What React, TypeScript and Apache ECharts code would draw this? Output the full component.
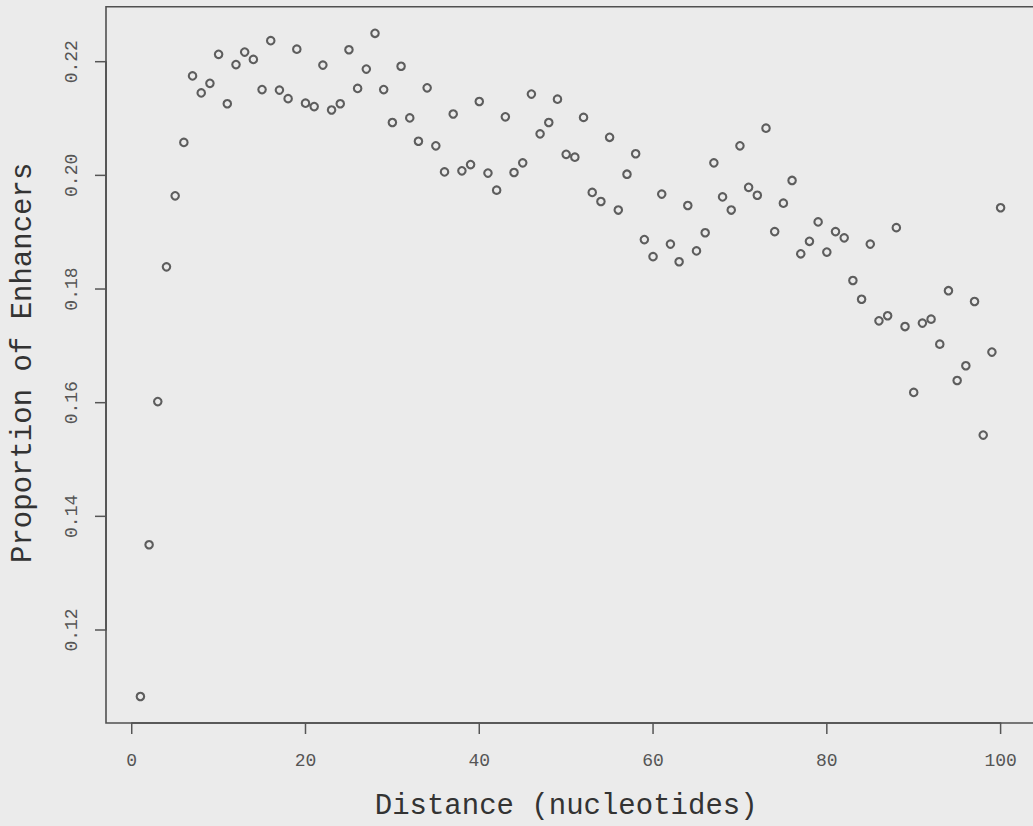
import React, { useEffect, useRef } from "react";
import * as echarts from "echarts";

// Distance (nucleotides) 1..100
const distances: number[] = Array.from({ length: 100 }, (_, i) => i + 1);

// Proportion of enhancers
const proportions: number[] = [
  0.1083, 0.1350, 0.1602, 0.1839, 0.1964, 0.2058, 0.2175, 0.2145, 0.2162, 0.2213,
  0.2126, 0.2195, 0.2217, 0.2204, 0.2151, 0.2237, 0.2150, 0.2135, 0.2222, 0.2127,
  0.2121, 0.2194, 0.2115, 0.2126, 0.2221, 0.2153, 0.2187, 0.2250, 0.2151, 0.2093,
  0.2192, 0.2101, 0.2060, 0.2154, 0.2052, 0.2006, 0.2108, 0.2008, 0.2019, 0.2130,
  0.2004, 0.1974, 0.2103, 0.2005, 0.2022, 0.2143, 0.2073, 0.2093, 0.2134, 0.2037,
  0.2032, 0.2102, 0.1970, 0.1954, 0.2067, 0.1939, 0.2002, 0.2038, 0.1887, 0.1857,
  0.1967, 0.1879, 0.1848, 0.1947, 0.1867, 0.1899, 0.2022, 0.1962, 0.1939, 0.2052,
  0.1979, 0.1965, 0.2083, 0.1901, 0.1951, 0.1991, 0.1862, 0.1884, 0.1918, 0.1865,
  0.1901, 0.1890, 0.1815, 0.1782, 0.1879, 0.1744, 0.1753, 0.1908, 0.1734, 0.1618,
  0.1740, 0.1747, 0.1703, 0.1797, 0.1639, 0.1665, 0.1778, 0.1543, 0.1689, 0.1943,
];

// Tick ranges (first tick, last tick, step) and tick values
const xTickRange: number[] = [0, 100, 20];
const yTickRange: number[] = [0.12, 0.22, 0.02];
const xTickValues: number[] = [0, 20, 40, 60, 80, 100];
const yTickValues: number[] = [0.12, 0.14, 0.16, 0.18, 0.2, 0.22];

const MONO = "'Courier New', Courier, 'Nimbus Mono PS', FreeMono, 'Liberation Mono', monospace";
const INK = "#505050";

export default function App() {
  const ref = useRef<HTMLDivElement>(null);

  useEffect(() => {
    if (!ref.current) return;
    const chart = echarts.init(ref.current, undefined, { renderer: "svg" });
    const points = distances.map((d, i) => [d, proportions[i]]);

    // plot box (R style, 4% padding around the data)
    const boxLeft = 106;
    const boxTop = 6.75;
    const boxWidth = 929;
    const boxHeight = 716.25;
    const boxBottom = boxTop + boxHeight;
    // inner grid spans the tick ranges
    const gridLeft = 131.72;
    const gridTop = 61.7;
    const gridWidth = 868.88;
    const gridHeight = 568.3;
    const tickLen = 11;

    chart.setOption({
      animation: false,
      backgroundColor: "#ebebeb",
      grid: {
        left: gridLeft,
        top: gridTop,
        width: gridWidth,
        height: gridHeight,
        show: false,
      },
      graphic: [
        {
          type: "rect",
          silent: true,
          shape: { x: boxLeft, y: boxTop, width: boxWidth, height: boxHeight },
          style: { fill: "none", stroke: INK, lineWidth: 1.6 },
        },
      ],
      xAxis: {
        type: "value",
        min: xTickRange[0],
        max: xTickRange[1],
        interval: xTickRange[2],
        offset: boxBottom - (gridTop + gridHeight),
        name: "Distance (nucleotides)",
        nameLocation: "middle",
        nameGap: 69,
        nameTextStyle: { fontFamily: MONO, fontSize: 29, color: "#333333" },
        axisLine: { show: true, onZero: false, lineStyle: { color: INK, width: 1.6 } },
        splitLine: { show: false },
        axisTick: { show: false },
        axisLabel: {
          margin: 29,
          fontFamily: MONO,
          fontSize: 18,
          color: "#555555",
        },
      },
      yAxis: {
        type: "value",
        min: yTickRange[0],
        max: yTickRange[1],
        interval: yTickRange[2],
        offset: gridLeft - boxLeft,
        name: "Proportion of Enhancers",
        nameLocation: "middle",
        nameGap: 68,
        nameTextStyle: {
          fontFamily: MONO,
          fontSize: 29,
          color: "#333333",
          padding: [0, 34, 0, 0],
        },
        axisLine: { show: true, onZero: false, lineStyle: { color: INK, width: 1.6 } },
        splitLine: { show: false },
        axisTick: { show: false },
        axisLabel: {
          rotate: 90,
          margin: 25,
          fontFamily: MONO,
          fontSize: 18,
          color: "#555555",
          formatter: (v: number) => v.toFixed(2),
        },
      },
      series: [
        {
          type: "scatter",
          data: points,
          clip: false,
          symbol: "circle",
          symbolSize: 7.5,
          itemStyle: {
            color: "transparent",
            borderColor: "#3a3a3a",
            borderWidth: 2.1,
          },
        },
        {
          // x-axis tick marks, positioned through the x scale
          type: "custom",
          silent: true,
          clip: false,
          data: xTickValues.map((v) => [v, yTickRange[0]]),
          renderItem: (_params: any, api: any) => {
            const p = api.coord([api.value(0), api.value(1)]);
            return {
              type: "line",
              shape: { x1: p[0], y1: boxBottom, x2: p[0], y2: boxBottom + tickLen },
              style: { stroke: "#555555", lineWidth: 1.5 },
            };
          },
        },
        {
          // y-axis tick marks, positioned through the y scale
          type: "custom",
          silent: true,
          clip: false,
          data: yTickValues.map((v) => [xTickRange[0], v]),
          renderItem: (_params: any, api: any) => {
            const p = api.coord([api.value(0), api.value(1)]);
            return {
              type: "line",
              shape: { x1: boxLeft - tickLen, y1: p[1], x2: boxLeft, y2: p[1] },
              style: { stroke: "#555555", lineWidth: 1.5 },
            };
          },
        },
      ],
    });
    return () => chart.dispose();
  }, []);

  return (
    <div
      style={{
        position: "fixed",
        left: 0,
        top: 0,
        width: 1033,
        height: 826,
        overflow: "hidden",
        background: "#ebebeb",
      }}
    >
      <div ref={ref} style={{ width: 1033, height: 826 }} />
    </div>
  );
}
